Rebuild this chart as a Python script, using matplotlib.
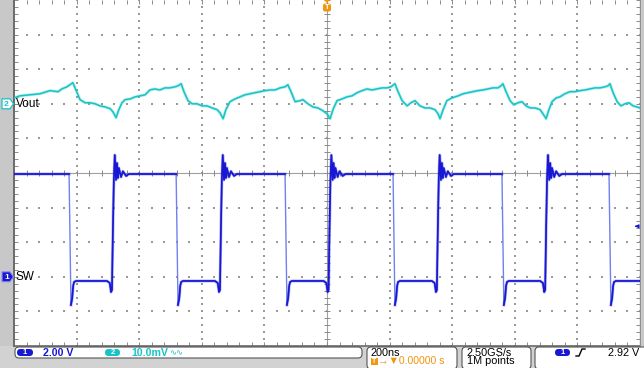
#!/usr/bin/env python3
"""Scope capture: buck converter SW node (ch1) and Vout ripple (ch2)."""

import matplotlib

matplotlib.use("Agg")
import matplotlib.pyplot as plt
import numpy as np
from matplotlib.collections import LineCollection
from matplotlib.patches import FancyBboxPatch, Polygon

plt.rcParams.update({"font.family": ["Liberation Sans", "DejaVu Sans"]})

# ── Scope settings (status bar) ──────────────────────────────────────────────
NS_PER_DIV = 200.0
CH1_V_PER_DIV = 2.00
CH2_MV_PER_DIV = 10.0
CH1_OFFSET_DIV = -3.0   # SW ground marker
CH2_OFFSET_DIV = 2.0    # Vout marker
TRIG_LEVEL_V = 2.92

# ── Ch1: SW node, edge times (ns) and levels (V) ─────────────────────────────
sw_fall_ns = [-824, -482, -134, 211, 559, 901]
sw_rise_ns = [-684, -339, 8, 354, 700]
sw_high_v = 5.94
sw_low_v = -0.24
# edge shapes read around each edge: ns after the edge, volts
rise_dt_ns = [-19, -10, -6, -3, 0, 3, 6, 10, 13, 16, 19, 26, 32, 42, 51]
rise_v = [-0.24, -0.36, -0.88, -0.76, 2.7, 5.6, 7.04, 5.6, 6.58, 5.71, 6.29,
          5.77, 6.1, 5.83, 5.94]
fall_dt_ns = [0, 3, 6, 10, 13, 16, 22]
fall_v = [5.94, 2.13, -1.63, -1.23, -0.53, -0.30, -0.24]

# ── Ch2: Vout ripple (AC, mV) ────────────────────────────────────────────────
vout_ns = [
    -1000, -981, -949, -917, -885, -859, -847, -831, -812, -802, -789, -773,
    -757, -741, -725, -709, -693, -684, -674, -665, -655, -645, -629, -613,
    -597, -581, -566, -550, -534, -518, -502, -486, -476, -466, -457, -444,
    -431, -415, -399, -383, -367, -351, -342, -332, -323, -310, -294, -278,
    -262, -246, -230, -214, -198, -182, -166, -150, -134, -125, -115, -102,
    -86, -77, -61, -45, -29, -13, 0, 10, 19, 32, 48, 64,
    80, 96, 112, 128, 144, 160, 176, 192, 204, 217, 227, 240,
    256, 268, 281, 297, 313, 329, 345, 355, 361, 371, 383, 399,
    419, 435, 450, 466, 482, 498, 514, 530, 546, 556, 562, 572,
    585, 597, 610, 623, 636, 649, 665, 681, 690, 700, 709, 719,
    732, 744, 760, 776, 792, 808, 824, 840, 856, 872, 888, 898,
    904, 914, 927, 939, 952, 965, 978, 990, 1000,
]
vout_mv = [
    1.7, 2.3, 2.6, 2.9, 3.8, 3.5, 4.3, 4.9, 6.1, 4.0, 1.2, 0.3,
    0.3, 0.0, -0.6, -0.9, -1.4, -2.3, -4.0, -1.7, 0.3, 1.2, 1.4, 2.0,
    2.3, 2.6, 4.0, 4.3, 4.0, 4.6, 4.6, 4.9, 5.2, 5.8, 3.5, 0.9,
    0.0, 0.0, -0.6, -0.6, -1.2, -1.7, -2.6, -4.3, -1.7, 0.6, 1.4, 2.0,
    2.6, 2.9, 3.2, 3.5, 3.8, 4.0, 4.0, 4.6, 4.9, 5.5, 3.5, 0.6,
    0.9, 1.2, 0.0, -0.9, -1.2, -2.0, -2.9, -4.3, -1.7, 0.9, 1.4, 2.0,
    2.3, 3.2, 3.8, 4.3, 4.0, 4.3, 4.6, 4.6, 4.9, 5.8, 3.5, 0.9,
    -0.6, 0.3, 0.9, -0.6, -1.2, -1.2, -1.7, -2.9, -4.3, -1.7, 0.9, 1.7,
    2.3, 2.9, 3.2, 3.5, 3.8, 4.0, 4.3, 4.6, 4.6, 5.2, 5.8, 3.5,
    0.9, -0.3, 0.3, 0.6, -0.6, -1.2, -1.2, -1.7, -2.9, -4.3, -1.7, 0.6,
    1.7, 2.0, 2.9, 3.5, 3.5, 3.8, 4.0, 4.3, 4.6, 4.6, 4.9, 5.2,
    5.8, 3.2, 0.6, -0.6, 0.0, 0.3, -0.6, -0.9, -1.2,
]

# ── Colours ──────────────────────────────────────────────────────────────────
CH1 = "#1818d4"
CH1_EDGE = "#7080ee"
CH2 = "#16c4c8"
ORANGE = "#f0960f"
GRID = "#9a9a9a"
BORDER = "#6a6a6a"
PANEL = "#d2d2d2"

# ── Layout (pixels) ──────────────────────────────────────────────────────────
W, H = 644, 368
L, R, T, B = 14, 640, 0, 346


def px_y(div):
    return T + (5 - div) * (B - T) / 10.0


def px_x(div):
    return L + (div + 5) * (R - L) / 10.0


def build_sw():
    # falling edges are drawn faint (fast transition), rising edges solid
    t, v, edge = [-1000.0], [sw_high_v], [False]
    events = sorted([(x, "f") for x in sw_fall_ns] + [(x, "r") for x in sw_rise_ns])
    for t0, kind in events:
        dts, vs, mid = (fall_dt_ns, fall_v, 1) if kind == "f" else (rise_dt_ns, rise_v, -1)
        for i, (dt, vv) in enumerate(zip(dts, vs)):
            t.append(t0 + dt)
            v.append(vv)
            edge.append(i == mid)
    t.append(1000.0)
    v.append(sw_low_v)
    edge.append(False)
    return np.array(t), np.array(v), np.array(edge)


def main():
    fig = plt.figure(figsize=(W / 100, H / 100), dpi=100)
    fig.patch.set_facecolor(PANEL)

    ax = fig.add_axes([L / W, (H - B) / H, (R - L) / W, (B - T) / H])
    ax.set_xlim(-5, 5)
    ax.set_ylim(-5, 5)
    ax.set_facecolor("white")
    for s in ax.spines.values():
        s.set_visible(False)
    ax.set_xticks([])
    ax.set_yticks([])

    # graticule: dotted majors, solid crosshair, border ticks
    minor = np.arange(-5, 5.001, 0.2)
    for g in range(-4, 5):
        if g == 0:
            continue
        ax.scatter(np.full_like(minor, g), minor, s=0.8, marker="s", color=GRID, lw=0, zorder=1)
        ax.scatter(minor, np.full_like(minor, g), s=0.8, marker="s", color=GRID, lw=0, zorder=1)
    ax.axhline(0, color="#a0a0a0", lw=0.8, zorder=1)
    ax.axvline(0, color="#a0a0a0", lw=0.8, zorder=1)

    tx = 3.0 * 10 / (R - L)   # 3 px in x divisions
    ty = 3.0 * 10 / (B - T)   # 3 px in y divisions
    segs = []
    for m in minor:
        segs.append([(-tx, m), (tx, m)])
        segs.append([(m, -ty), (m, ty)])
        segs.append([(-5, m), (-5 + 1.3 * tx, m)])
        segs.append([(5, m), (5 - 1.3 * tx, m)])
        segs.append([(m, -5), (m, -5 + 1.3 * ty)])
        segs.append([(m, 5), (m, 5 - 1.3 * ty)])
    ax.add_collection(LineCollection(segs, colors="#8a8a8a", lw=0.7, zorder=1))
    ax.plot([-5, -5], [-5, 5], color=BORDER, lw=1.4, zorder=2, clip_on=False)
    ax.plot([-5, 5], [-5, -5], color=BORDER, lw=1.2, zorder=2, clip_on=False)
    ax.plot([5, 5], [-5, 5], color="#909090", lw=1.0, zorder=2, clip_on=False)

    # ch2 Vout
    vx = np.array(vout_ns) / NS_PER_DIV
    vy = np.array(vout_mv) / CH2_MV_PER_DIV + CH2_OFFSET_DIV
    ax.plot(vx, vy, color=CH2, lw=2.2, alpha=0.3, zorder=3)
    ax.plot(vx, vy, color=CH2, lw=1.1, zorder=4)

    # ch1 SW
    st, sv, edge = build_sw()
    sx = st / NS_PER_DIV
    sy = sv / CH1_V_PER_DIV + CH1_OFFSET_DIV
    ax.plot(sx, sy, color=CH1_EDGE, lw=1.0, zorder=4)
    sy_dark = np.where(edge, np.nan, sy)
    ax.plot(sx, sy_dark, color=CH1, lw=2.2, alpha=0.3, zorder=4)
    ax.plot(sx, sy_dark, color=CH1, lw=1.2, zorder=5)

    # overlay in pixel coordinates
    ov = fig.add_axes([0, 0, 1, 1])
    ov.set_xlim(0, W)
    ov.set_ylim(H, 0)
    ov.axis("off")

    ov.add_patch(plt.Rectangle((0, 0), L - 1, B, fc="#c8c8c8", ec="none"))
    ov.add_patch(plt.Rectangle((R + 1, 0), W - R, B, fc="#c8c8c8", ec="none"))

    # trigger position marker
    cx = px_x(0)
    ov.add_patch(Polygon([(cx - 3, 0), (cx + 3, 0), (cx, 3)], closed=True, fc=ORANGE, ec="none"))
    ov.add_patch(FancyBboxPatch((cx - 4, 3.5), 8, 8, boxstyle="round,pad=0,rounding_size=2",
                                fc=ORANGE, ec="none"))
    ov.text(cx, 7.8, "T", color="white", fontsize=5.5, weight="bold", ha="center", va="center")

    # channel ground markers + labels
    y2 = px_y(CH2_OFFSET_DIV)
    ov.add_patch(Polygon([(2, y2 - 5), (10, y2 - 5), (13.5, y2), (10, y2 + 5), (2, y2 + 5)],
                         closed=True, fc="white", ec=CH2, lw=0.9))
    ov.text(6.5, y2 + 0.3, "2", color=CH2, fontsize=6, weight="bold", ha="center", va="center")
    ov.text(16, y2, "Vout", color="black", fontsize=8.5, ha="left", va="center")

    y1 = px_y(CH1_OFFSET_DIV)
    ov.add_patch(Polygon([(2, y1 - 5), (10, y1 - 5), (13.5, y1), (10, y1 + 5), (2, y1 + 5)],
                         closed=True, fc=CH1, ec="#9090ee", lw=0.8))
    ov.text(6.5, y1 + 0.3, "1", color="white", fontsize=6, weight="bold", ha="center", va="center")
    ov.text(16, y1, "SW", color="black", fontsize=8.5, ha="left", va="center")

    # trigger level arrow on the right edge
    yt = px_y(CH1_OFFSET_DIV + TRIG_LEVEL_V / CH1_V_PER_DIV)
    ov.annotate("", xy=(632, yt), xytext=(639.5, yt),
                arrowprops=dict(arrowstyle="-|>", color=CH1, lw=0.9, mutation_scale=5))

    # status bar
    def box(x, y, w, h):
        ov.add_patch(FancyBboxPatch((x, y), w, h, boxstyle="round,pad=0,rounding_size=4",
                                    fc="white", ec="#555555", lw=0.8))

    def pill(x, y, w, color, label):
        ov.add_patch(FancyBboxPatch((x, y - 3.5), w, 7, boxstyle="round,pad=0,rounding_size=3.5",
                                    fc=color, ec="none"))
        ov.text(x + w / 2, y + 0.2, label, color="white", fontsize=5.5, weight="bold",
                ha="center", va="center")

    box(15, 347, 347, 11)
    pill(17, 352.5, 16, CH1, "1")
    ov.text(43, 352.5, f"{CH1_V_PER_DIV:.2f} V", color=CH1, fontsize=7.6, weight="bold", va="center")
    pill(105, 352.5, 15, CH2, "2")
    ov.text(131, 352.5, f"{CH2_MV_PER_DIV:.1f}mV", color=CH2, fontsize=7.6, weight="bold", va="center")
    ov.text(169, 352.5, "∿∿", color=CH2, fontsize=6, va="center", family="DejaVu Sans")

    box(367, 347, 90, 22)
    ov.text(371, 352.5, f"{NS_PER_DIV:.0f}ns", color="black", fontsize=7.8, va="center")
    ov.add_patch(plt.Rectangle((371, 357.5), 7, 7, fc=ORANGE, ec="none"))
    ov.text(374.5, 361.2, "T", color="white", fontsize=5, weight="bold", ha="center", va="center")
    ov.text(378.5, 361.2, "→▼0.00000 s", color=ORANGE, fontsize=7.6, va="center")

    box(462, 347, 69, 22)
    ov.text(467, 352.5, "2.50GS/s", color="black", fontsize=7.8, va="center")
    ov.text(467, 361.2, "1M points", color="black", fontsize=7.8, va="center")

    box(535, 347, 115, 22)
    pill(555, 352.5, 15, CH1, "1")
    ov.plot([576, 579, 582, 585], [356, 356, 349, 349], color="black", lw=1.0)
    ov.text(639, 352.5, f"{TRIG_LEVEL_V:.2f} V", color="black", fontsize=7.8, ha="right", va="center")

    fig.savefig("out.png", dpi=100, facecolor=PANEL)
    plt.close(fig)


if __name__ == "__main__":
    main()
